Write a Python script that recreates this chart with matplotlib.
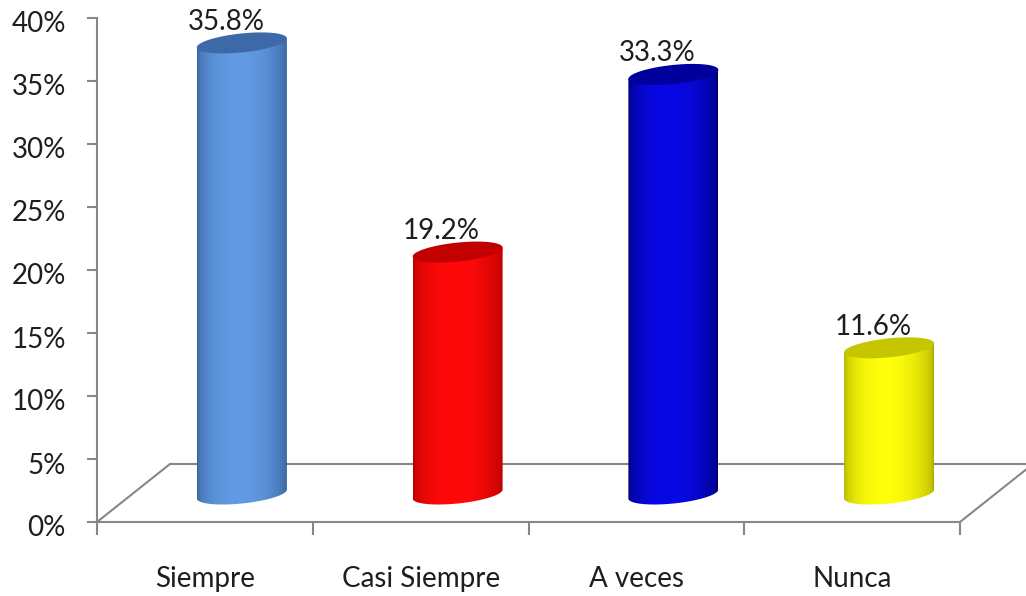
import numpy as np
import matplotlib
matplotlib.use("Agg")
import matplotlib.pyplot as plt
from matplotlib.patches import Polygon
from matplotlib.transforms import ScaledTranslation

# Chart data
categories = ["Siempre", "Casi Siempre", "A veces", "Nunca"]
values = [35.8, 19.2, 33.3, 11.6]
y_ticks = [0, 5, 10, 15, 20, 25, 30, 35, 40]

# Cylinder colours: (edge shade, highlight) for the body, flat colour for the cap
side_colors = [("#36609A", "#629BE3"),
               ("#B00000", "#FF0A0A"),
               ("#000072", "#0808E6"),
               ("#ABAB00", "#FFFF0A")]
top_colors = ["#3D69A8", "#C20000", "#00009C", "#C6C600"]

W, H = 1026, 596
fig = plt.figure(figsize=(W / 100, H / 100), dpi=100)
ax = fig.add_axes([97 / W, 74 / H, 863 / W, 504 / H])

px_x = 863 / 4      # pixels per category
px_y = 504 / 40     # pixels per percent

floor_dx, floor_dy = 73 / px_x, 58 / px_y
cyl_dx, cyl_dy = 37 / px_x, 28 / px_y
rad_x, rad_y, tilt = 45 / px_x, 9.5 / px_y, 4.5 / px_y

axis_col = "#878787"
text_col = "#1E1E1E"
font = "Lato"
fsize = 20


def ellipse(cx, cy, t):
    return np.column_stack([cx + rad_x * np.cos(t),
                            cy + rad_y * np.sin(t) + tilt * np.cos(t)])


# Floor of the 3D plot area
ax.plot([0, floor_dx, 4 + floor_dx, 4], [0, floor_dy, floor_dy, 0],
        color=axis_col, lw=1.5, clip_on=False, zorder=1, solid_joinstyle="miter")

# Horizontal shading profile across a cylinder (highlight a little left of centre)
N = 128
u = np.linspace(0, 1, N)
warped = u ** (np.log(0.5) / np.log(0.45))
shade = np.sin(np.pi * warped) ** 0.5

for i, (v, (c_edge, c_hi), c_top) in enumerate(zip(values, side_colors, top_colors)):
    cx = i + 0.5 + cyl_dx
    base = cyl_dy
    top = cyl_dy + v

    t_low = np.linspace(np.pi, 2 * np.pi, 80)
    bottom_arc = ellipse(cx, base, t_low)
    body = np.vstack([[cx - rad_x, top - tilt], bottom_arc, [cx + rad_x, top + tilt]])
    clip = Polygon(body, closed=True, facecolor="none", edgecolor="none",
                   transform=ax.transData)
    ax.add_patch(clip)

    e = np.array(matplotlib.colors.to_rgb(c_edge))
    h = np.array(matplotlib.colors.to_rgb(c_hi))
    grad = (e[None, :] + (h - e)[None, :] * shade[:, None])[None, :, :]
    im = ax.imshow(grad, extent=[cx - rad_x, cx + rad_x, base - rad_y - tilt - 0.5, top + 0.5],
                   aspect="auto", interpolation="bilinear", zorder=3, origin="lower")
    im.set_clip_path(clip)

    cap = Polygon(ellipse(cx, top, np.linspace(0, 2 * np.pi, 120)), closed=True,
                  facecolor=c_top, edgecolor="none", zorder=4)
    ax.add_patch(cap)

    ax.annotate(f"{v:.1f}%", xy=(cx, top), xytext=(-16 * 0.72, 21 * 0.72),
                textcoords="offset points", ha="center", va="center",
                fontsize=fsize, family=font, color=text_col, zorder=5)

ax.set_xlim(0, 4)
ax.set_ylim(0, 40)

for side in ("top", "right"):
    ax.spines[side].set_visible(False)
for side in ("left", "bottom"):
    ax.spines[side].set_color(axis_col)
    ax.spines[side].set_linewidth(1.5)

ax.set_yticks(y_ticks)
ax.set_yticklabels([f"{t}%" for t in y_ticks], fontsize=fsize, family=font, color=text_col)
ax.tick_params(axis="y", direction="out", length=7.5, width=1.5, color=axis_col, pad=15)
shift = ScaledTranslation(0, -4 / 100, fig.dpi_scale_trans)
for lab in ax.get_yticklabels():
    lab.set_transform(lab.get_transform() + shift)

ax.set_xticks(range(5))
ax.set_xticklabels([])
ax.tick_params(axis="x", which="major", direction="out", length=9, width=1.5, color=axis_col)
ax.set_xticks([i + 0.5 for i in range(len(categories))], minor=True)
ax.set_xticklabels(categories, minor=True, fontsize=fsize, family=font, color=text_col)
ax.tick_params(axis="x", which="minor", length=0, pad=32)

fig.savefig("out.png", dpi=100)
